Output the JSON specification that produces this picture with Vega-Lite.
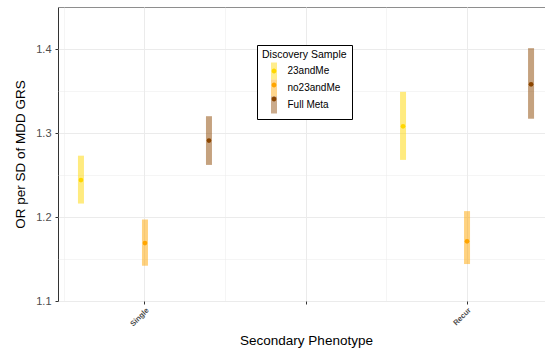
{
  "$schema": "https://vega.github.io/schema/vega-lite/v6.json",
  "width": 496,
  "height": 294,
  "autosize": "none",
  "padding": {"left": 58, "top": 7, "right": 0, "bottom": 47},
  "background": "white",
  "config": {
    "font": "Liberation Sans",
    "view": {"stroke": "#333333", "strokeWidth": 1},
    "axis": {
      "gridColor": "#EBEBEB",
      "domain": false,
      "tickColor": "#333333",
      "tickSize": 3,
      "labelColor": "#4D4D4D",
      "titleColor": "#000000",
      "titleFontWeight": "normal",
      "titleFontSize": 13.5
    }
  },
  "data": {
    "values": [
      {"pheno": "Single", "sample": "23andMe", "or": 1.244, "lo": 1.216, "hi": 1.273},
      {"pheno": "Single", "sample": "no23andMe", "or": 1.169, "lo": 1.142, "hi": 1.197},
      {"pheno": "Single", "sample": "Full Meta", "or": 1.291, "lo": 1.262, "hi": 1.320},
      {"pheno": "Recur", "sample": "23andMe", "or": 1.308, "lo": 1.268, "hi": 1.349},
      {"pheno": "Recur", "sample": "no23andMe", "or": 1.171, "lo": 1.144, "hi": 1.207},
      {"pheno": "Recur", "sample": "Full Meta", "or": 1.358, "lo": 1.317, "hi": 1.401}
    ]
  },
  "resolve": {"axis": {"x": "independent", "y": "independent"}},
  "layer": [
    {
      "mark": {"type": "bar", "width": 6, "opacity": 0.5},
      "encoding": {
        "x": {
          "field": "pheno",
          "type": "nominal",
          "scale": {"domain": ["Single", "blank", "Recur"], "paddingInner": 0, "paddingOuter": 0.04},
          "axis": {
            "title": "Secondary Phenotype",
            "bandPosition": 0.5,
            "grid": true,
            "gridWidth": 1,
            "labelAngle": -45,
            "labelAlign": "right",
            "labelBaseline": "top",
            "labelFontSize": 7.5,
            "labelFontWeight": "bold",
            "labelPadding": 2,
            "labelExpr": "datum.label == 'blank' ? '' : datum.label",
            "titleBaseline": "alphabetic",
            "titleY": 43
          }
        },
        "xOffset": {
          "field": "sample",
          "type": "nominal",
          "scale": {"domain": ["23andMe", "no23andMe", "Full Meta"], "paddingInner": 0.484, "paddingOuter": 0}
        },
        "y": {
          "field": "lo",
          "type": "quantitative",
          "scale": {"domain": [1.1, 1.45], "nice": false, "zero": false},
          "axis": {
            "title": "OR per SD of MDD GRS",
            "values": [1.1, 1.2, 1.3, 1.4],
            "format": ".1f",
            "labelFontSize": 11,
            "labelPadding": 4,
            "grid": true,
            "gridWidth": 1,
            "titleBaseline": "alphabetic",
            "titleX": -34
          }
        },
        "y2": {"field": "hi"},
        "color": {
          "field": "sample",
          "type": "nominal",
          "scale": {"domain": ["23andMe", "no23andMe", "Full Meta"], "range": ["#FFD700", "#FFA500", "#8B4500"]},
          "legend": {
            "orient": "none",
            "legendX": 199,
            "legendY": 38,
            "title": "Discovery Sample",
            "titleFontSize": 10.5,
            "titleFontWeight": "normal",
            "titleColor": "#000000",
            "titlePadding": 2,
            "labelFontSize": 10,
            "labelColor": "#000000",
            "labelOffset": 5,
            "symbolType": "M-0.35,-1H0.35V1H-0.35Z",
            "symbolSize": 289,
            "symbolOpacity": 0.45,
            "symbolStrokeWidth": 0,
            "symbolOffset": 3.5,
            "rowPadding": 0,
            "padding": 5,
            "strokeColor": "#000000",
            "fillColor": "#FFFFFF"
          }
        }
      }
    },
    {
      "mark": {"type": "point", "filled": true, "size": 22, "opacity": 1},
      "encoding": {
        "x": {
          "field": "pheno",
          "type": "nominal",
          "axis": {
            "orient": "bottom",
            "bandPosition": 0,
            "grid": true,
            "gridWidth": 0.5,
            "ticks": false,
            "labels": false,
            "title": null
          }
        },
        "xOffset": {"field": "sample", "type": "nominal"},
        "y": {
          "field": "or",
          "type": "quantitative",
          "axis": {
            "orient": "left",
            "values": [1.15, 1.25, 1.35, 1.45],
            "grid": true,
            "gridWidth": 0.5,
            "ticks": false,
            "labels": false,
            "title": null
          }
        },
        "fill": {
          "field": "sample",
          "type": "nominal",
          "sort": ["23andMe", "no23andMe", "Full Meta"],
          "scale": {"range": ["#FFD700", "#FFA500", "#8B4500"]},
          "legend": {
            "orient": "none",
            "legendX": 199,
            "legendY": 50.5,
            "title": null,
            "labelExpr": "''",
            "labelFontSize": 10,
            "labelOffset": 5,
            "symbolType": "M-0.28,0A0.28,0.28 0 1,0 0.28,0A0.28,0.28 0 1,0 -0.28,0Z",
            "symbolSize": 289,
            "symbolOpacity": 1,
            "symbolStrokeWidth": 0,
            "symbolOffset": 3.5,
            "rowPadding": 0,
            "padding": 5,
            "strokeColor": "transparent",
            "fillColor": "transparent"
          }
        }
      }
    }
  ]
}
